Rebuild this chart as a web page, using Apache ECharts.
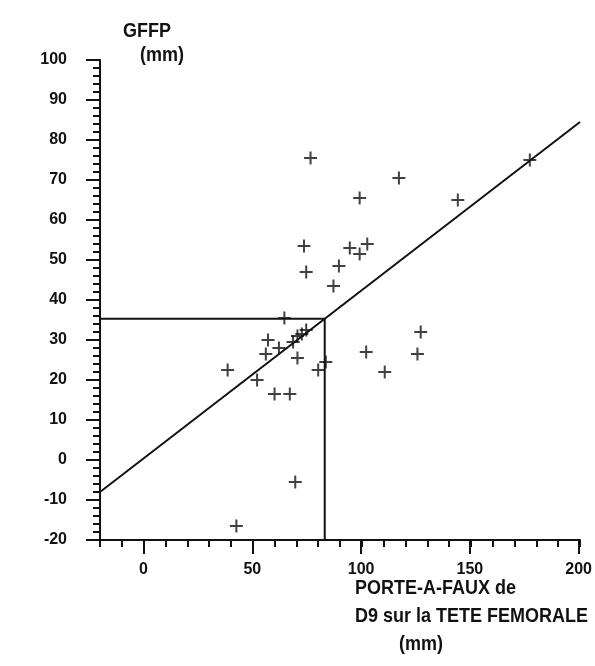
<!DOCTYPE html>
<html><head><meta charset="utf-8">
<script src="https://cdn.jsdelivr.net/npm/echarts@6/dist/echarts.min.js"></script>
<style>html,body{margin:0;padding:0;background:#fff}#c{width:595px;height:666px}</style>
</head><body><div id="c"></div>
<script>
// Data
const porteAFaux = [76.5, 117, 99, 73.5, 94.5, 102.5, 99, 74.5, 89.5, 87, 64.5, 144, 177, 127, 57, 62, 56, 68.5, 70.5, 72.5, 74.5, 70.5, 38.5, 52, 60, 67, 80, 83.5, 102, 110.5, 125.5, 69.5, 42.5];
const gffp       = [75.5, 70.5, 65.5, 53.5, 53, 54, 51.5, 47, 48.5, 43.5, 35.5, 65, 75, 32, 30, 28, 26.5, 29.5, 31, 31.5, 32.5, 25.5, 22.5, 20, 16.5, 16.5, 22.5, 24.5, 27, 22, 26.5, -5.5, -16.5];
const regLineX = [-20, 200];
const regLineY = [-8, 84.5];
const guideX = [-20, 83, 83];
const guideY = [35.3, 35.3, -20];
const xMajorTicks = [0, 50, 100, 150, 200];
const yTitle = ['GFFP', '(mm)'];
const xTitle = ['PORTE-A-FAUX de', 'D9 sur la TETE FEMORALE', '(mm)'];

const FONT = "'Liberation Sans',Arial,sans-serif";
const INK = '#111';
const GRID = {left: 100, right: 15, top: 60, bottom: 126};

const chart = echarts.init(document.getElementById('c'), null, {renderer: 'canvas'});
const zip = (a, b) => a.map((v, i) => [v, b[i]]);

const txt = (text, x, y) => ({
  type: 'text', x, y, scaleY: 1.15,
  style: {text, font: "bold 18px " + FONT, fill: INK, textVerticalAlign: 'middle'}
});

chart.setOption({
  backgroundColor: '#fff',
  animation: false,
  grid: [Object.assign({}, GRID), Object.assign({}, GRID)],
  xAxis: [{
    gridIndex: 0, type: 'value', min: -20, max: 200, interval: 10,
    axisLine: {show: true, onZero: false, lineStyle: {color: INK, width: 2}},
    axisTick: {show: true, length: 7, lineStyle: {color: INK, width: 2}},
    axisLabel: {show: false},
    splitLine: {show: false}
  }, {
    gridIndex: 1, type: 'value', min: -20, max: 200,
    axisLine: {show: false, onZero: false},
    axisTick: {show: true, length: 14, customValues: xMajorTicks, lineStyle: {color: INK, width: 2}},
    axisLabel: {show: true, customValues: xMajorTicks, margin: 22, color: INK,
      fontFamily: FONT, fontWeight: 'bold', fontSize: 16},
    splitLine: {show: false}
  }],
  yAxis: [{
    gridIndex: 0, type: 'value', min: -20, max: 100, interval: 10,
    axisLine: {show: true, onZero: false, lineStyle: {color: INK, width: 2}},
    axisTick: {show: true, length: 14, lineStyle: {color: INK, width: 2}},
    minorTick: {show: true, splitNumber: 5, length: 7, lineStyle: {color: INK, width: 2}},
    axisLabel: {show: true, margin: 33, color: INK, fontFamily: FONT, fontWeight: 'bold', fontSize: 16},
    splitLine: {show: false}
  }, {
    gridIndex: 1, type: 'value', min: -20, max: 100, show: false
  }],
  graphic: [
    txt(yTitle[0], 123, 31),
    txt(yTitle[1], 140, 55),
    txt(xTitle[0], 355, 588),
    txt(xTitle[1], 355, 616),
    txt(xTitle[2], 399, 644)
  ],
  series: [{
    type: 'line', xAxisIndex: 0, yAxisIndex: 0,
    data: zip(regLineX, regLineY), showSymbol: false, symbol: 'none',
    lineStyle: {color: INK, width: 2}
  }, {
    type: 'line', xAxisIndex: 0, yAxisIndex: 0,
    data: zip(guideX, guideY), showSymbol: false, symbol: 'none',
    lineStyle: {color: INK, width: 2}
  }, {
    type: 'scatter', xAxisIndex: 0, yAxisIndex: 0,
    data: zip(porteAFaux, gffp),
    symbol: 'path://M0,5L10,5M5,0L5,10', symbolSize: 13,
    itemStyle: {color: 'rgba(0,0,0,0)', borderColor: INK, borderWidth: 2}
  }]
});
</script>
</body></html>
